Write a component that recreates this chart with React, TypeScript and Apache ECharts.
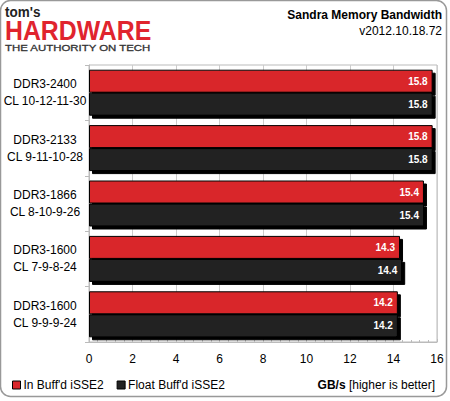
import React, { useEffect, useRef } from "react";
import * as echarts from "echarts";

const categories = [
  "DDR3-2400\nCL 10-12-11-30",
  "DDR3-2133\nCL 9-11-10-28",
  "DDR3-1866\nCL 8-10-9-26",
  "DDR3-1600\nCL 7-9-8-24",
  "DDR3-1600\nCL 9-9-9-24",
];
const seriesNames = ["In Buff'd iSSE2", "Float Buff'd iSSE2"];
const inBuffd = [15.8, 15.8, 15.4, 14.3, 14.2];
const floatBuffd = [15.8, 15.8, 15.4, 14.4, 14.2];
const xTicks = { min: 0, max: 16, interval: 2 };

const FONT = "'Liberation Sans', Arial, sans-serif";
const RED = "#d9262b";
const BLACK = "#222222";

export default function App() {
  const ref = useRef<HTMLDivElement>(null);
  useEffect(() => {
    document.body.style.margin = "0";
    if (!ref.current) return;
    const chart = echarts.init(ref.current, null, { renderer: "svg" });
    const barStyle = (color: string) => ({
      color,
      borderColor: "#000",
      borderWidth: 1,
      shadowColor: "#000",
      shadowBlur: 0,
      shadowOffsetX: 3,
      shadowOffsetY: 3,
    });
    const label = {
      show: true,
      position: "insideRight" as const,
      distance: 5,
      color: "#fff",
      fontSize: 10,
      fontWeight: "bold" as const,
      fontFamily: FONT,
    };
    chart.setOption({
      animation: false,
      backgroundColor: "#fff",
      textStyle: { fontFamily: FONT },
      grid: {
        left: 89,
        right: 13,
        top: 65,
        bottom: 59,
        show: true,
        borderColor: "#bbbbbb",
        borderWidth: 1,
        backgroundColor: "#fff",
      },
      legend: {
        left: 12,
        top: 379,
        padding: 0,
        itemWidth: 8,
        itemHeight: 8,
        itemGap: 13,
        icon: "rect",
        selectedMode: false,
        textStyle: { fontSize: 12, color: "#000", fontFamily: FONT, padding: [0, 0, 0, -2] },
        itemStyle: { borderColor: "#000", borderWidth: 1, shadowBlur: 0, shadowOffsetX: 0, shadowOffsetY: 0, shadowColor: "transparent" },
        data: seriesNames,
      },
      xAxis: {
        type: "value",
        min: xTicks.min,
        max: xTicks.max,
        interval: xTicks.interval,
        axisLine: { show: true, lineStyle: { color: "#bbbbbb" } },
        axisTick: { show: true, inside: true, length: 3, lineStyle: { color: "#bbbbbb" } },
        minorTick: { show: true, splitNumber: 5, length: 2, lineStyle: { color: "#bbbbbb" } },
        splitLine: { show: true, lineStyle: { color: "#cccccc" } },
        axisLabel: { color: "#000", fontSize: 12, margin: 11, fontFamily: FONT },
      },
      yAxis: {
        type: "category",
        inverse: true,
        data: categories,
        axisLine: { show: true, lineStyle: { color: "#bbbbbb" } },
        axisTick: { show: true, length: 4, lineStyle: { color: "#bbbbbb" } },
        axisLabel: {
          color: "#000",
          fontSize: 12,
          align: "center",
          margin: 44,
          lineHeight: 17,
          fontFamily: FONT,
        },
      },
      series: [
        {
          name: seriesNames[0],
          type: "bar",
          data: inBuffd,
          barWidth: 23,
          barGap: "0%",
          itemStyle: barStyle(RED),
          label,
        },
        {
          name: seriesNames[1],
          type: "bar",
          data: floatBuffd,
          barWidth: 23,
          barGap: "0%",
          itemStyle: barStyle(BLACK),
          label,
        },
      ],
      graphic: [
        {
          type: "rect",
          shape: { x: 0.5, y: 0.5, width: 446, height: 396, r: 10 },
          style: { fill: "none", stroke: "#999999", lineWidth: 1.5 },
          z: 100,
          silent: true,
        },
        {
          type: "text",
          x: 5,
          y: 11.5,
          scaleX: 0.9,
          style: { text: "tom's", fontSize: 15, fontWeight: "bold", fill: "#222", fontFamily: FONT, verticalAlign: "middle" },
        },
        {
          type: "text",
          x: 5,
          y: 30.5,
          scaleX: 0.92,
          style: { text: "HARDWARE", fontSize: 27, fontWeight: "bold", fill: "#e0242e", fontFamily: FONT, verticalAlign: "middle" },
        },
        {
          type: "text",
          x: 5,
          y: 48,
          scaleX: 1.27,
          style: { text: "THE AUTHORITY ON TECH", fontSize: 9, fill: "#333", fontFamily: FONT, verticalAlign: "middle", stroke: "#333", lineWidth: 0.3 },
        },
        {
          type: "text",
          x: 442,
          y: 15,
          style: {
            text: "Sandra Memory Bandwidth",
            fontSize: 12,
            fontWeight: "bold",
            fill: "#000",
            align: "right",
            verticalAlign: "middle",
            fontFamily: FONT,
          },
        },
        {
          type: "text",
          x: 442,
          y: 31,
          style: {
            text: "v2012.10.18.72",
            fontSize: 12,
            fill: "#000",
            align: "right",
            verticalAlign: "middle",
            fontFamily: FONT,
          },
        },
        {
          type: "text",
          x: 435,
          y: 385,
          style: {
            text: "{b|GB/s} [higher is better]",
            fontSize: 12,
            fill: "#000",
            align: "right",
            verticalAlign: "middle",
            fontFamily: FONT,
            rich: { b: { fontWeight: "bold", fontSize: 12, fontFamily: FONT } },
          },
        },
      ],
    });
    return () => chart.dispose();
  }, []);
  return <div ref={ref} style={{ width: 450, height: 401 }} />;
}
